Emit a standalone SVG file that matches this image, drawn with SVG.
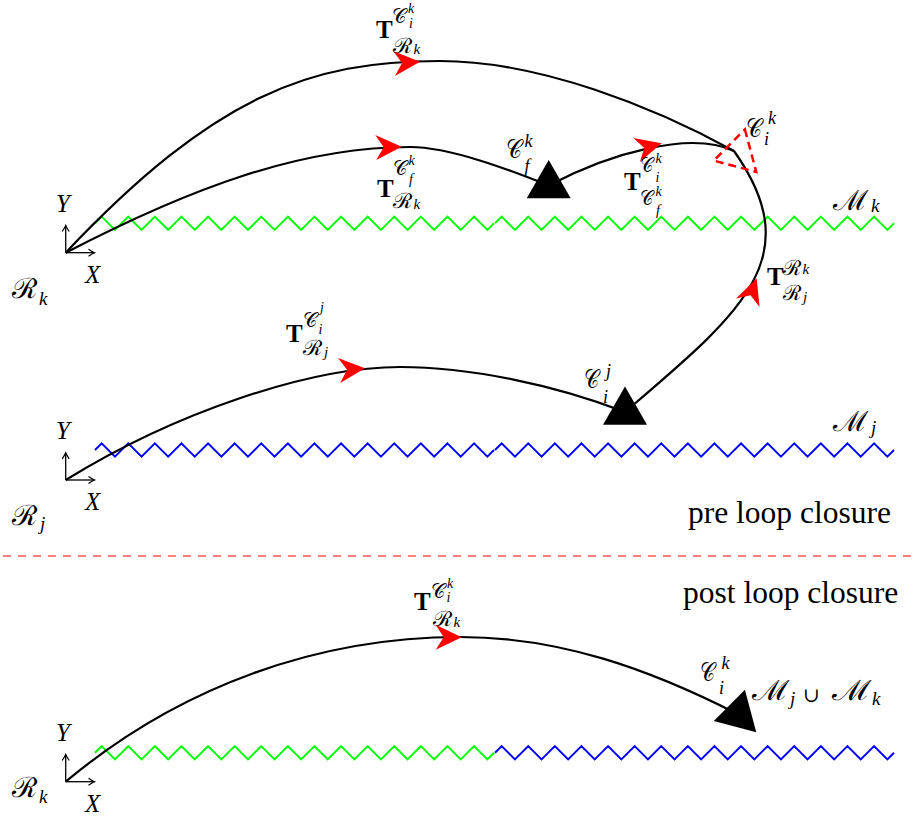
<svg xmlns="http://www.w3.org/2000/svg" xmlns:xlink="http://www.w3.org/1999/xlink" width="916" height="820" viewBox="0 0 916 820">
<style>
.curve{fill:none;stroke:#000;stroke-width:2.2}
.axis{fill:none;stroke:#000;stroke-width:1.3}
.zz{fill:none;stroke-width:2;stroke-linejoin:miter}
.T{font-family:"Liberation Serif",serif;font-weight:bold;font-size:25px;fill:#000}
.mi{font-family:"Liberation Serif",serif;font-style:italic;fill:#000}
.cal{font-family:"DejaVu Serif","Liberation Serif",serif;fill:#000}
.rm{font-family:"Liberation Serif",serif;font-size:31.5px;fill:#000}
.ah{fill:#f00}
.cam{fill:#000}
</style>
<defs>
<path id="ah" d="M0,0 L-26,-12.5 L-18,0 L-26,12.5 Z"/>
<path id="zzh" d="M95,0 l6.65,-6.65 13.3,13.3 13.3,-13.3 13.3,13.3 13.3,-13.3 13.3,13.3 13.3,-13.3 13.3,13.3 13.3,-13.3 13.3,13.3 13.3,-13.3 13.3,13.3 13.3,-13.3 13.3,13.3 13.3,-13.3 13.3,13.3 13.3,-13.3 13.3,13.3 13.3,-13.3 13.3,13.3 13.3,-13.3 13.3,13.3 13.3,-13.3 13.3,13.3 13.3,-13.3 13.3,13.3 13.3,-13.3 13.3,13.3 13.3,-13.3 13.3,13.3 6.65,-6.65"/>
<marker id="ax" viewBox="-8 -5 10 10" refX="0" refY="0" markerWidth="10" markerHeight="10" markerUnits="userSpaceOnUse" orient="auto">
<path d="M-6,-3.5 Q-2,-0.8 0,0 Q-2,0.8 -6,3.5" fill="none" stroke="#000" stroke-width="1.2"/>
</marker>
</defs>

<g id="map-Mk">
<use xlink:href="#zzh" y="223.3" class="zz" stroke="#00ff00"/>
<use xlink:href="#zzh" x="400" y="223.3" class="zz" stroke="#00ff00"/>
<text class="cal" font-size="28" x="833" y="210" textLength="35" lengthAdjust="spacingAndGlyphs">ℳ</text>
<text class="mi" font-size="19" x="871" y="212">k</text>
</g>

<g id="map-Mj">
<use xlink:href="#zzh" y="450" class="zz" stroke="#0000ff"/>
<use xlink:href="#zzh" x="400" y="450" class="zz" stroke="#0000ff"/>
<text class="cal" font-size="28" x="833" y="431" textLength="35" lengthAdjust="spacingAndGlyphs">ℳ</text>
<text class="mi" font-size="19" x="871" y="434">j</text>
</g>

<g id="map-merged">
<use xlink:href="#zzh" y="752.7" class="zz" stroke="#00ff00"/>
<use xlink:href="#zzh" x="400" y="752.7" class="zz" stroke="#0000ff"/>
<text class="cal" font-size="28" x="752" y="700" textLength="37" lengthAdjust="spacingAndGlyphs">ℳ</text>
<text class="mi" font-size="19" x="790" y="705">j</text>
<text font-family="DejaVu Serif,serif" font-size="20" x="803" y="702">∪</text>
<text class="cal" font-size="28" x="832" y="700" textLength="39" lengthAdjust="spacingAndGlyphs">ℳ</text>
<text class="mi" font-size="19" x="872" y="705">k</text>
</g>

<g id="separator">
<line x1="3" y1="556" x2="916" y2="556" stroke="#f00" stroke-width="1.2" stroke-dasharray="8,7"/>
<text class="rm" x="688" y="523">pre loop closure</text>
<text class="rm" x="683" y="603">post loop closure</text>
</g>

<g id="connectors">
<path class="curve" d="M65.7,252.7 C215,95 310,61 440,61 C540,61 655.5,107.7 734,151"/>
<path class="curve" d="M65.7,252.7 C189.7,188.4 300,147 410,147 C450,147 510,170 548.7,185.5"/>
<path class="curve" d="M548.7,185.5 C608,154 690,130 734,151"/>
<path class="curve" d="M625,412 C739.9,313.6 810.1,258.6 734,151"/>
<path class="curve" d="M65.7,480 C176,412 310,367 400,367 C470,367 555,385 625,412"/>
<path class="curve" d="M65.7,781.7 C180.6,685.3 320,637 460,637 C560,637 649,669 738.3,714.4"/>
<use xlink:href="#ah" class="ah" transform="translate(420,61.7) rotate(-4)"/>
<use xlink:href="#ah" class="ah" transform="translate(401.7,146.7) rotate(-2)"/>
<use xlink:href="#ah" class="ah" transform="translate(661.7,143.3) rotate(-15)"/>
<use xlink:href="#ah" class="ah" transform="translate(756.7,278.3) rotate(-70)"/>
<use xlink:href="#ah" class="ah" transform="translate(365,368.3) rotate(-5)"/>
<use xlink:href="#ah" class="ah" transform="translate(461.7,637.3) rotate(0)"/>
</g>

<g id="label-T-Cik-Rk-top">
<text class="T" x="376" y="37.5">T</text>
<text class="cal" font-size="21" x="392" y="23" textLength="14" lengthAdjust="spacingAndGlyphs">𝒞</text>
<text class="mi" font-size="14" x="408" y="13">k</text>
<text class="mi" font-size="14" x="409" y="28">i</text>
<text class="cal" font-size="21" x="393" y="53" textLength="19" lengthAdjust="spacingAndGlyphs">ℛ</text>
<text class="mi" font-size="15" x="413.5" y="54">k</text>
</g>
<g id="label-T-Cfk-Rk">
<text class="T" x="377" y="196.7">T</text>
<text class="cal" font-size="21" x="393" y="175" textLength="14" lengthAdjust="spacingAndGlyphs">𝒞</text>
<text class="mi" font-size="14" x="408.5" y="165">k</text>
<text class="mi" font-size="14" x="409" y="184">f</text>
<text class="cal" font-size="21" x="393" y="208" textLength="19" lengthAdjust="spacingAndGlyphs">ℛ</text>
<text class="mi" font-size="15" x="413.5" y="209">k</text>
</g>
<g id="label-T-Cik-Cfk">
<text class="T" x="624" y="190">T</text>
<text class="cal" font-size="21" x="640" y="172" textLength="13" lengthAdjust="spacingAndGlyphs">𝒞</text>
<text class="mi" font-size="14" x="655.5" y="163">k</text>
<text class="mi" font-size="14" x="655.5" y="182">i</text>
<text class="cal" font-size="21" x="640" y="205" textLength="13" lengthAdjust="spacingAndGlyphs">𝒞</text>
<text class="mi" font-size="14" x="655.5" y="196">k</text>
<text class="mi" font-size="14" x="656" y="215">f</text>
</g>
<g id="label-T-Rk-Rj">
<text class="T" x="767" y="285">T</text>
<text class="cal" font-size="21" x="783" y="275" textLength="18" lengthAdjust="spacingAndGlyphs">ℛ</text>
<text class="mi" font-size="15" x="802.5" y="274">k</text>
<text class="cal" font-size="21" x="783" y="300" textLength="18" lengthAdjust="spacingAndGlyphs">ℛ</text>
<text class="mi" font-size="15" x="803" y="302">j</text>
</g>
<g id="label-T-Cij-Rj">
<text class="T" x="286" y="342">T</text>
<text class="cal" font-size="21" x="303" y="327" textLength="14" lengthAdjust="spacingAndGlyphs">𝒞</text>
<text class="mi" font-size="14" x="320" y="312">j</text>
<text class="mi" font-size="14" x="318.5" y="334">i</text>
<text class="cal" font-size="21" x="303" y="355" textLength="19" lengthAdjust="spacingAndGlyphs">ℛ</text>
<text class="mi" font-size="15" x="324" y="357">j</text>
</g>
<g id="label-T-Cik-Rk-bottom">
<text class="T" x="414" y="610">T</text>
<text class="cal" font-size="21" x="431" y="598" textLength="14" lengthAdjust="spacingAndGlyphs">𝒞</text>
<text class="mi" font-size="14" x="447" y="588">k</text>
<text class="mi" font-size="14" x="446.5" y="602">i</text>
<text class="cal" font-size="21" x="433" y="626" textLength="19" lengthAdjust="spacingAndGlyphs">ℛ</text>
<text class="mi" font-size="15" x="453.5" y="627">k</text>
</g>

<g id="frame-Rk-top">
<path class="axis" d="M65.7,252.7 V225.5" marker-end="url(#ax)"/>
<path class="axis" d="M65.7,252.7 H94.5" marker-end="url(#ax)"/>
<text class="mi" font-size="25" x="56" y="211.7">Y</text>
<text class="mi" font-size="25" x="85" y="283">X</text>
<text class="cal" font-size="28" x="12" y="298" textLength="25" lengthAdjust="spacingAndGlyphs">ℛ</text>
<text class="mi" font-size="19" x="39" y="305">k</text>
</g>
<g id="frame-Rj">
<path class="axis" d="M65.7,480 V452.8" marker-end="url(#ax)"/>
<path class="axis" d="M65.7,480 H94.5" marker-end="url(#ax)"/>
<text class="mi" font-size="25" x="56" y="439">Y</text>
<text class="mi" font-size="25" x="85" y="510">X</text>
<text class="cal" font-size="28" x="12" y="525" textLength="25" lengthAdjust="spacingAndGlyphs">ℛ</text>
<text class="mi" font-size="19" x="40" y="530">j</text>
</g>
<g id="frame-Rk-bottom">
<path class="axis" d="M65.7,781.7 V754.5" marker-end="url(#ax)"/>
<path class="axis" d="M65.7,781.7 H94.5" marker-end="url(#ax)"/>
<text class="mi" font-size="25" x="56" y="741">Y</text>
<text class="mi" font-size="25" x="85" y="812">X</text>
<text class="cal" font-size="28" x="12" y="797" textLength="25" lengthAdjust="spacingAndGlyphs">ℛ</text>
<text class="mi" font-size="19" x="39" y="803">k</text>
</g>

<g id="cam-Cfk">
<polygon class="cam" points="548.7,160 570.7,198.2 526.7,198.2"/>
<text class="cal" font-size="26" x="506" y="158" textLength="16" lengthAdjust="spacingAndGlyphs">𝒞</text>
<text class="mi" font-size="18" x="524.5" y="147">k</text>
<text class="mi" font-size="18" x="524.5" y="172">f</text>
</g>
<g id="cam-Cik">
<polygon points="0,-25.5 22,12.7 -22,12.7" transform="translate(738.3,154) rotate(15)" fill="none" stroke="#f00" stroke-width="2.5" stroke-dasharray="8,5"/>
<text class="cal" font-size="26" x="746" y="137" textLength="16" lengthAdjust="spacingAndGlyphs">𝒞</text>
<text class="mi" font-size="18" x="768" y="124">k</text>
<text class="mi" font-size="18" x="764" y="145">i</text>
</g>
<g id="cam-Cij">
<polygon class="cam" points="625,386.5 647,424.7 603,424.7"/>
<text class="cal" font-size="26" x="584" y="388" textLength="15" lengthAdjust="spacingAndGlyphs">𝒞</text>
<text class="mi" font-size="18" x="606" y="377">j</text>
<text class="mi" font-size="18" x="603" y="403">i</text>
</g>
<g id="cam-Cik-bottom">
<polygon class="cam" points="0,-25.5 22,12.7 -22,12.7" transform="translate(738.3,714.4) rotate(15)"/>
<text class="cal" font-size="26" x="700" y="681" textLength="15" lengthAdjust="spacingAndGlyphs">𝒞</text>
<text class="mi" font-size="18" x="721.5" y="669">k</text>
<text class="mi" font-size="18" x="719" y="694">i</text>
</g>
</svg>
